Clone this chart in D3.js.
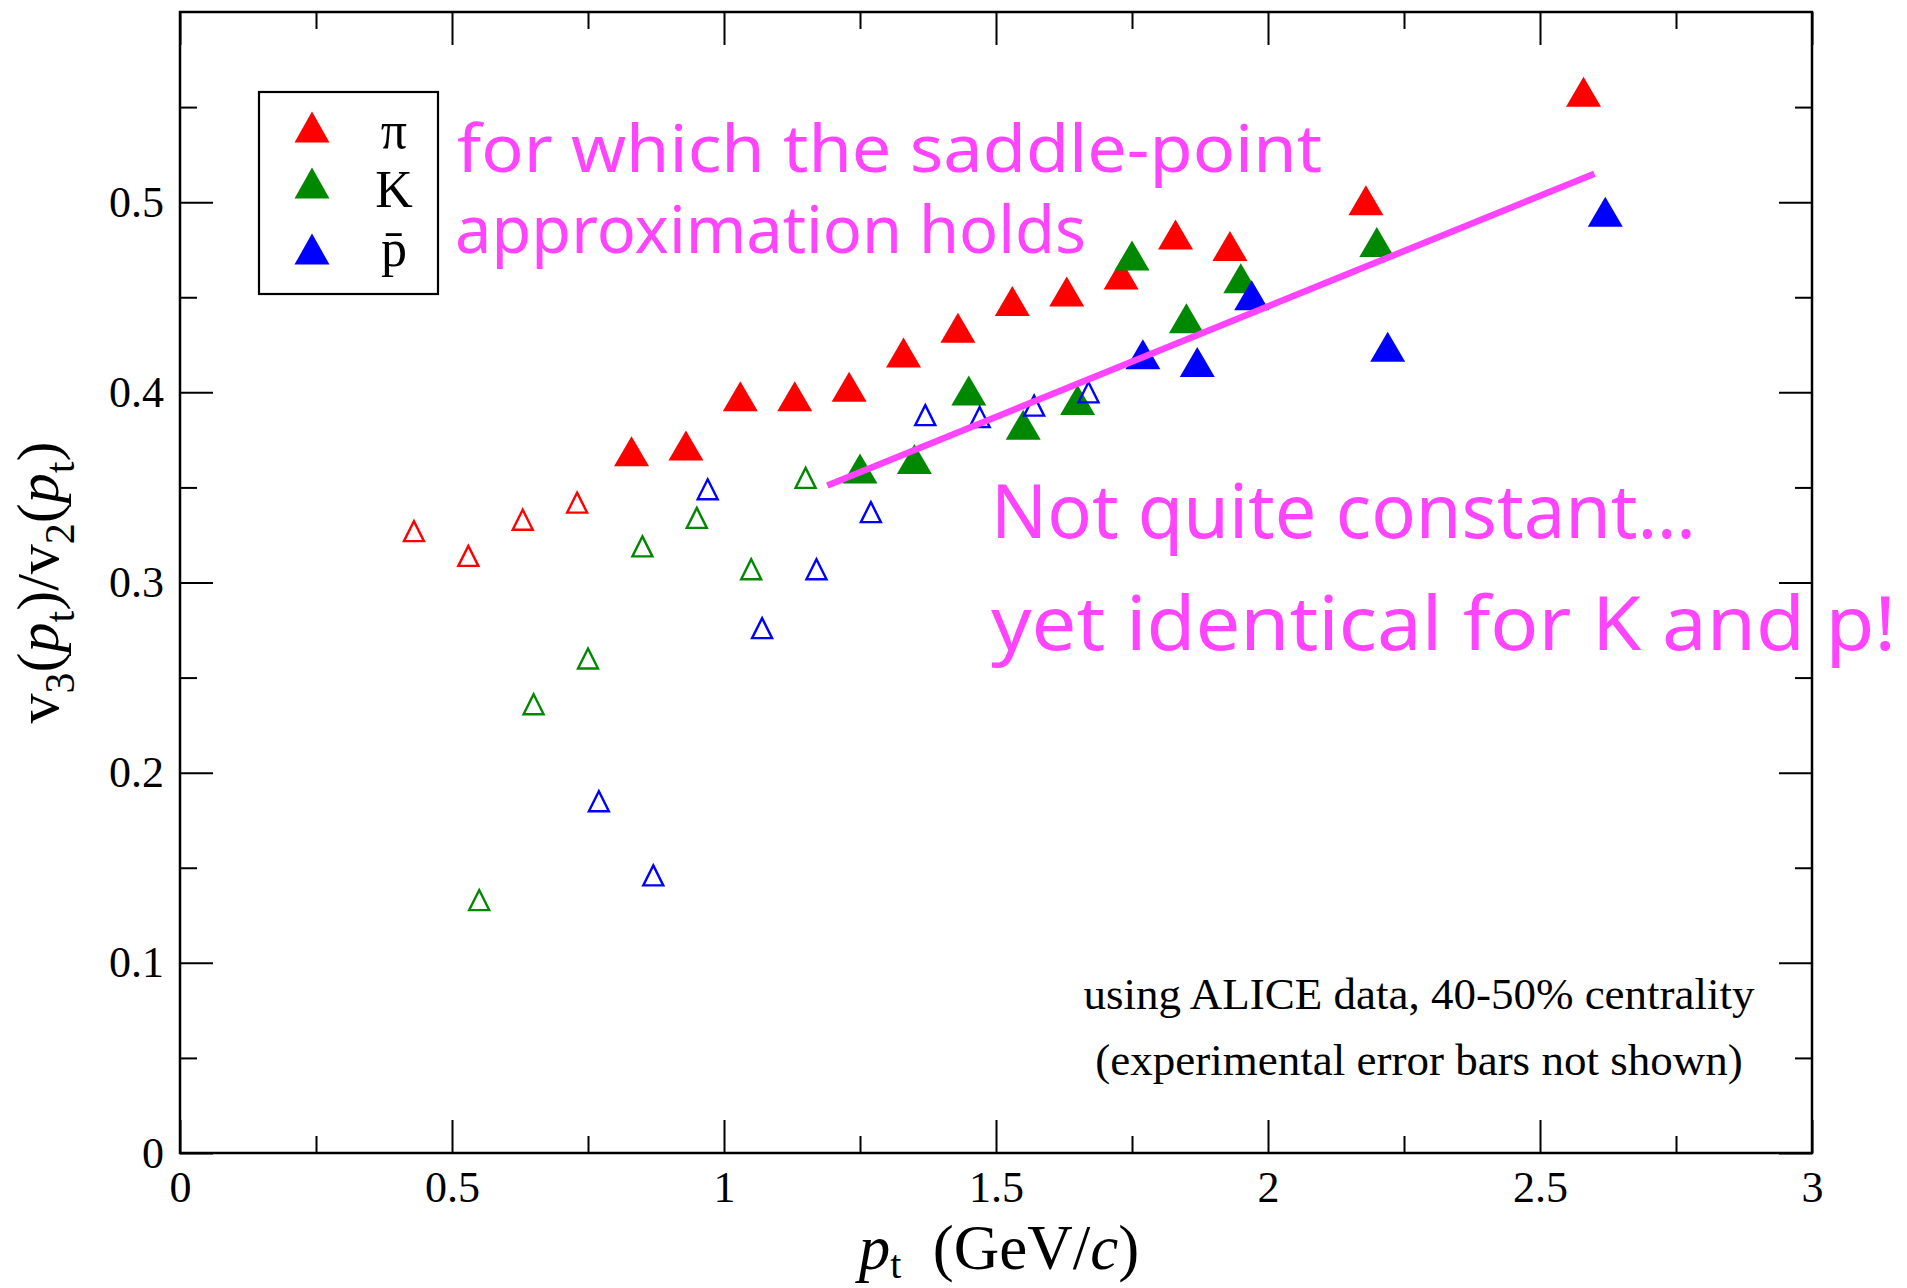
<!DOCTYPE html>
<html>
<head>
<meta charset="utf-8">
<script src="https://cdn.jsdelivr.net/npm/d3@7"></script>
<style>
  body { margin: 0; background: #fff; }
  svg text { font-family: "Liberation Serif", "Times New Roman", serif; fill: #000; }
  .note { fill: #ff44ff; font-family: "Comic Sans MS", "Noto Sans", sans-serif; }
</style>
</head>
<body>
<div class="chart"></div>
<script>

// ---- data ----
// pions (pi), kaons (K), antiprotons (pbar); open = low pt, filled = high pt
var pionOpenX   = [0.43, 0.53, 0.63, 0.73];
var pionOpenY   = [0.327, 0.314, 0.333, 0.342];
var pionFullX   = [0.83, 0.93, 1.03, 1.13, 1.23, 1.33, 1.43, 1.53, 1.63, 1.73, 1.83, 1.93, 2.18, 2.58];
var pionFullY   = [0.369, 0.372, 0.398, 0.398, 0.403, 0.421, 0.434, 0.448, 0.453, 0.462, 0.483, 0.477, 0.501, 0.558];

var kaonOpenX   = [0.55, 0.65, 0.75, 0.85, 0.95, 1.05, 1.15];
var kaonOpenY   = [0.133, 0.236, 0.260, 0.319, 0.334, 0.307, 0.355];
var kaonFullX   = [1.25, 1.35, 1.45, 1.55, 1.65, 1.75, 1.85, 1.95, 2.20];
var kaonFullY   = [0.360, 0.365, 0.401, 0.383, 0.396, 0.472, 0.439, 0.460, 0.479];

var protonOpenX = [0.77, 0.87, 0.97, 1.07, 1.17, 1.27, 1.37, 1.47, 1.57, 1.67];
var protonOpenY = [0.185, 0.146, 0.349, 0.276, 0.307, 0.337, 0.388, 0.387, 0.393, 0.400];
var protonFullX = [1.77, 1.87, 1.97, 2.22, 2.62];
var protonFullY = [0.420, 0.416, 0.451, 0.424, 0.495];

// hand drawn guide line (data units)
var guideX = [1.19, 2.60];
var guideY = [0.351, 0.515];

var xTicks = [0, 0.5, 1, 1.5, 2, 2.5, 3];
var xMinor = [0.25, 0.75, 1.25, 1.75, 2.25, 2.75];
var yTicks = [0, 0.1, 0.2, 0.3, 0.4, 0.5];
var yMinor = [0.05, 0.15, 0.25, 0.35, 0.45, 0.55];

var species = [
  {name: "pi", label: "\u03c0",      color: "#ff0000", ox: pionOpenX,   oy: pionOpenY,   fx: pionFullX,   fy: pionFullY},
  {name: "K",  label: "K",           color: "#008800", ox: kaonOpenX,   oy: kaonOpenY,   fx: kaonFullX,   fy: kaonFullY},
  {name: "p",  label: "p\u0304",     color: "#0000ff", ox: protonOpenX, oy: protonOpenY, fx: protonFullX, fy: protonFullY}
];

// set the dimensions and margins of the graph
var margin = {top: 12, right: 95, bottom: 135, left: 180},
    width = 1907 - margin.left - margin.right,
    height = 1288 - margin.top - margin.bottom;

var svg = d3.select(".chart")
  .append("svg")
    .attr("width", 1907)
    .attr("height", 1288)
  .append("g")
    .attr("transform", "translate(" + margin.left + "," + margin.top + ")");

var x = d3.scaleLinear().domain([0, 3]).range([0, width]);
var y = d3.scaleLinear().domain([0, 0.6]).range([height, 0]);

var fmt = function (d) { return String(d); };

// bottom axis with labels, inward ticks
svg.append("g")
  .attr("transform", "translate(0," + height + ")")
  .call(d3.axisBottom(x).tickValues(xTicks).tickSize(-33).tickPadding(18).tickFormat(fmt));
svg.append("g")
  .attr("transform", "translate(0," + height + ")")
  .call(d3.axisBottom(x).tickValues(xMinor).tickSize(-17).tickFormat(""));
// top mirror
svg.append("g").call(d3.axisTop(x).tickValues(xTicks).tickSize(-33).tickFormat(""));
svg.append("g").call(d3.axisTop(x).tickValues(xMinor).tickSize(-17).tickFormat(""));

// left axis
svg.append("g")
  .call(d3.axisLeft(y).tickValues(yTicks).tickSize(-33).tickPadding(16).tickFormat(fmt));
svg.append("g").call(d3.axisLeft(y).tickValues(yMinor).tickSize(-17).tickFormat(""));
// right mirror
svg.append("g").attr("transform", "translate(" + width + ",0)")
  .call(d3.axisRight(y).tickValues(yTicks).tickSize(-33).tickFormat(""));
svg.append("g").attr("transform", "translate(" + width + ",0)")
  .call(d3.axisRight(y).tickValues(yMinor).tickSize(-17).tickFormat(""));

svg.selectAll(".domain").remove();
svg.selectAll(".tick line").attr("stroke", "#000").attr("stroke-width", 2);
svg.selectAll(".tick text").attr("font-size", "44px").attr("fill", "#000")
  .style("font-family", "'Liberation Serif', serif");

// frame
svg.append("rect")
  .attr("x", 0).attr("y", 0)
  .attr("width", width).attr("height", height)
  .attr("fill", "none")
  .attr("stroke", "#000")
  .attr("stroke-width", 2.5);

// triangle shapes
function tri(w, h) {
  return "M0," + (-h / 2) + "L" + (w / 2) + "," + (h / 2) + "L" + (-w / 2) + "," + (h / 2) + "Z";
}

species.forEach(function (s) {
  var open = s.ox.map(function (v, i) { return {x: v, y: s.oy[i]}; });
  var full = s.fx.map(function (v, i) { return {x: v, y: s.fy[i]}; });

  svg.append("g").selectAll("path")
    .data(open)
    .enter()
    .append("path")
      .attr("d", tri(20, 20))
      .attr("transform", function (d) { return "translate(" + x(d.x) + "," + y(d.y) + ")"; })
      .attr("fill", "none")
      .attr("stroke", s.color)
      .attr("stroke-width", 2.4);

  svg.append("g").selectAll("path")
    .data(full)
    .enter()
    .append("path")
      .attr("d", tri(35, 30))
      .attr("transform", function (d) { return "translate(" + x(d.x) + "," + y(d.y) + ")"; })
      .attr("fill", s.color);
});

// legend
var legend = svg.append("g").attr("transform", "translate(79,80)");
legend.append("rect")
  .attr("width", 179).attr("height", 202)
  .attr("fill", "#fff").attr("stroke", "#000").attr("stroke-width", 2.2);
var legY = [35, 91, 157];
var legText = [56, 115, 174];
species.forEach(function (s, i) {
  legend.append("path")
    .attr("d", tri(35, 31))
    .attr("transform", "translate(53," + legY[i] + ")")
    .attr("fill", s.color);
  legend.append("text")
    .attr("x", 135).attr("y", legText[i])
    .attr("text-anchor", "middle")
    .attr("font-size", "52px")
    .text(s.label);
});

// guide line
svg.append("line")
  .attr("x1", x(guideX[0])).attr("y1", y(guideY[0]))
  .attr("x2", x(guideX[1])).attr("y2", y(guideY[1]))
  .style("stroke", "#ff44ff")
  .style("stroke-width", 6.5);

// axis titles
var xl = svg.append("text")
  .attr("x", 819).attr("y", 1257)
  .attr("text-anchor", "middle")
  .attr("font-size", "63px");
xl.append("tspan").attr("font-style", "italic").text("p");
xl.append("tspan").attr("font-size", "40px").attr("dy", 9).text("t");
xl.append("tspan").attr("dy", -9).text("\u00a0 (GeV/");
xl.append("tspan").attr("font-style", "italic").text("c");
xl.append("tspan").text(")");

var yl = svg.append("text")
  .attr("transform", "translate(-122," + (height / 2) + ") rotate(-90)")
  .attr("text-anchor", "middle")
  .attr("font-size", "60px");
yl.append("tspan").text("v");
yl.append("tspan").attr("font-size", "42px").attr("dy", 16).text("3");
yl.append("tspan").attr("dy", -16).text("(");
yl.append("tspan").attr("font-style", "italic").text("p");
yl.append("tspan").attr("font-size", "42px").attr("dy", 16).text("t");
yl.append("tspan").attr("dy", -16).text(")/v");
yl.append("tspan").attr("font-size", "42px").attr("dy", 16).text("2");
yl.append("tspan").attr("dy", -16).text("(");
yl.append("tspan").attr("font-style", "italic").text("p");
yl.append("tspan").attr("font-size", "42px").attr("dy", 16).text("t");
yl.append("tspan").attr("dy", -16).text(")");

// data source note
var noteLines = ["using ALICE data, 40-50% centrality", "(experimental error bars not shown)"];
svg.selectAll(".src")
  .data(noteLines)
  .enter()
  .append("text")
    .attr("class", "src")
    .attr("x", 1239)
    .attr("y", function (d, i) { return 997 + i * 66; })
    .attr("text-anchor", "middle")
    .attr("font-size", "45px")
    .text(function (d) { return d; });

// hand written comments
var comments = [
  {t: "for which the saddle-point", x: 277, y: 160, s: 66, w: 865},
  {t: "approximation holds",        x: 275, y: 241, s: 66, w: 631},
  {t: "Not quite constant\u2026",   x: 811, y: 526, s: 74, w: 705},
  {t: "yet identical for K and p!", x: 811, y: 638, s: 74, w: 905}
];
comments.forEach(function (c) {
  svg.append("text")
    .attr("class", "note")
    .attr("x", c.x).attr("y", c.y)
    .attr("font-size", c.s + "px")
    .attr("textLength", c.w)
    .attr("lengthAdjust", "spacingAndGlyphs")
    .text(c.t);
});

</script>
</body>
</html>
